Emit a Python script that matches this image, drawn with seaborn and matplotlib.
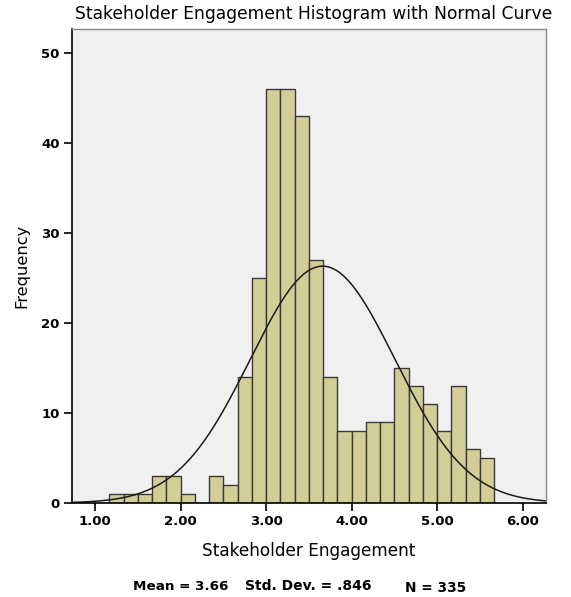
import numpy as np
import pandas as pd
import matplotlib
matplotlib.use("Agg")
import matplotlib.pyplot as plt
import seaborn as sns

# Data
bin_width = 1 / 6
bin_start = 7 / 6
counts = [1, 1, 1, 3, 3, 1, 0, 3, 2, 14, 25, 46, 46, 43, 27, 14,
          8, 8, 9, 9, 15, 13, 11, 8, 13, 6, 5]
mean_val = 3.66
sd_val = 0.846
n_val = 335
x_ticks = [1.0, 2.0, 3.0, 4.0, 5.0, 6.0]
x_tick_labels = ["1.00", "2.00", "3.00", "4.00", "5.00", "6.00"]
y_ticks = [0, 10, 20, 30, 40, 50]

edges = [bin_start + bin_width * i for i in range(len(counts) + 1)]
centers = [(edges[i] + edges[i + 1]) / 2 for i in range(len(counts))]
df = pd.DataFrame({"x": centers, "count": counts})

sns.set_style("white")
plt.rcParams["font.family"] = ["DejaVu Sans"]
plt.rcParams["text.color"] = "black"
plt.rcParams["axes.labelcolor"] = "black"
plt.rcParams["xtick.color"] = "black"
plt.rcParams["ytick.color"] = "black"

fig = plt.figure(figsize=(5.71, 5.97), dpi=100)
ax = fig.add_axes([0.126, 0.1575, 0.830, 0.794])
ax.set_facecolor("#F0F0F0")

sns.histplot(data=df, x="x", weights="count", bins=edges, ax=ax,
             color="#D3CE97", edgecolor="#3A3A3A", linewidth=1.0, alpha=1.0)

xs = np.linspace(0.73, 6.27, 400)
ys = n_val * bin_width * np.exp(-0.5 * ((xs - mean_val) / sd_val) ** 2) / (sd_val * np.sqrt(2 * np.pi))
sns.lineplot(x=xs, y=ys, ax=ax, color="#1A1A1A", linewidth=1.1)

ax.set_xlim(0.73, 6.27)
ax.set_ylim(0, 52.7)
ax.set_xticks(x_ticks)
ax.set_xticklabels(x_tick_labels, fontweight="bold", fontsize=9.5)
ax.set_yticks(y_ticks)
ax.set_yticklabels([str(v) for v in y_ticks], fontweight="bold", fontsize=9.5)
ax.tick_params(axis="both", direction="out", length=6, width=1.2, color="black", pad=3,
               bottom=True, left=True)

for side in ["left", "bottom"]:
    ax.spines[side].set_color("black")
    ax.spines[side].set_linewidth(1.2)
for side in ["top", "right"]:
    ax.spines[side].set_color("#8A8A8A")
    ax.spines[side].set_linewidth(1.0)

ax.set_xlabel("Stakeholder Engagement", fontsize=12.2, labelpad=10)
ax.set_ylabel("Frequency", fontsize=11.7, labelpad=8)
ax.set_title("Stakeholder Engagement Histogram with Normal Curve", fontsize=12.3, pad=7, x=0.51)

fig.text(0.233, 0.012, f"Mean = {mean_val:.2f}", fontsize=9.7, fontweight="bold", ha="left")
fig.text(0.429, 0.012, "Std. Dev. = .846", fontsize=10, fontweight="bold", ha="left")
fig.text(0.709, 0.009, f"N = {n_val}", fontsize=9.8, fontweight="bold", ha="left")

fig.savefig("out.png", dpi=100, facecolor="white")
